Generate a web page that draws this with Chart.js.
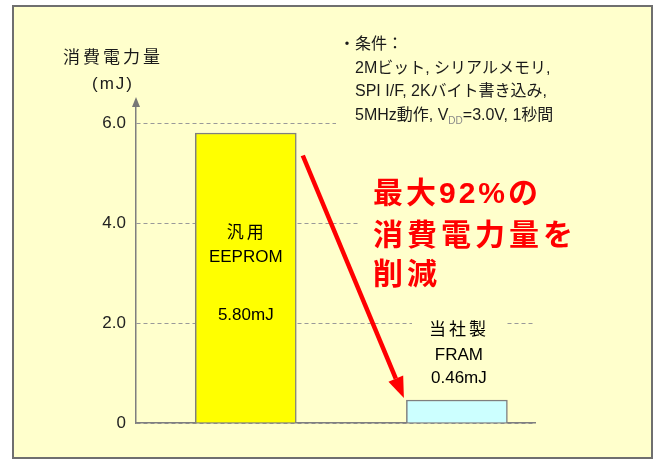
<!DOCTYPE html>
<html>
<head>
<meta charset="utf-8">
<script src="https://cdn.jsdelivr.net/npm/chart.js@4.4.0/dist/chart.umd.min.js"></script>
<style>
  html, body { margin: 0; padding: 0; background: #fff; }
  canvas { display: block; }
</style>
</head>
<body>
<canvas id="myChart" width="659" height="459"></canvas>
<script>
// chart data
var categories = ['汎用EEPROM', '当社製FRAM'];
var energy = [5.80, 0.46]; // mJ
var barNames = [['汎用', 'EEPROM'], ['当社製', 'FRAM']];
var valueLabels = ['5.80mJ', '0.46mJ'];
var tickValues = [0, 2, 4, 6];
var tickLabels = ['0', '2.0', '4.0', '6.0'];
var axisTitle = ['消費電力量', '(mJ)'];
var conditions = ['・条件：', '2Mビット, シリアルメモリ,', 'SPI I/F, 2Kバイト書き込み,'];
var lastCondition = ['5MHz動作, V', 'DD', '=3.0V, 1秒間'];
var headline = ['最大92%の', '消費電力量を', '削減'];

var FONT = '"Liberation Sans", "Noto Sans CJK JP", sans-serif';
var PANEL = '#FFFFCC';

function txt(ctx, s, x, y, font, color, align, spacing) {
  ctx.font = font;
  ctx.fillStyle = color;
  ctx.textAlign = align || 'left';
  ctx.textBaseline = 'middle';
  ctx.letterSpacing = spacing || '0px';
  ctx.fillText(s, x, y);
  ctx.letterSpacing = '0px';
}

var decor = {
  id: 'decor',
  beforeDraw: function(chart) {
    var ctx = chart.ctx;
    ctx.save();
    ctx.fillStyle = '#fff';
    ctx.fillRect(0, 0, chart.width, chart.height);
    ctx.fillStyle = PANEL;
    ctx.fillRect(12, 5, 641, 454);
    ctx.strokeStyle = '#6f6f6f';
    ctx.lineWidth = 2;
    ctx.strokeRect(13, 6, 639, 452);
    ctx.restore();
  },
  afterDatasetsDraw: function(chart) {
    var ctx = chart.ctx;
    var xs = chart.scales.x, ys = chart.scales.y;
    ctx.save();

    // panels behind text hide the grid lines
    ctx.fillStyle = PANEL;
    ctx.fillRect(336, 28, 210, 100);
    ctx.fillRect(360, 172, 190, 124);
    ctx.fillRect(412, 316, 94, 74);

    // y axis arrow head
    var ax = chart.chartArea.left;
    ctx.fillStyle = '#777';
    ctx.beginPath();
    ctx.moveTo(ax, 97);
    ctx.lineTo(ax - 4, 107);
    ctx.lineTo(ax + 4, 107);
    ctx.closePath();
    ctx.fill();

    // axis title
    txt(ctx, axisTitle[0], 113, 58, '17px ' + FONT, '#1a1a1a', 'center', '3px');
    txt(ctx, axisTitle[1], 113, 84, '17px ' + FONT, '#1a1a1a', 'center', '2px');

    // conditions
    var cf = '16px ' + FONT;
    txt(ctx, conditions[0], 339, 45, cf, '#1a1a1a');
    txt(ctx, conditions[1], 355, 69, cf, '#1a1a1a');
    txt(ctx, conditions[2], 355, 92, cf, '#1a1a1a');
    ctx.font = cf;
    var cx = 355;
    txt(ctx, lastCondition[0], cx, 116, cf, '#1a1a1a');
    cx += ctx.measureText(lastCondition[0]).width;
    txt(ctx, lastCondition[1], cx, 121, '10px ' + FONT, '#888');
    ctx.font = '10px ' + FONT;
    cx += ctx.measureText(lastCondition[1]).width;
    txt(ctx, lastCondition[2], cx, 116, cf, '#1a1a1a');

    // headline
    var hf = 'bold 30px ' + FONT;
    txt(ctx, headline[0], 373, 195, hf, '#FF0000', 'left', '3px');
    txt(ctx, headline[1], 373, 237, hf, '#FF0000', 'left', '4px');
    txt(ctx, headline[2], 373, 276, hf, '#FF0000', 'left', '4px');

    // bar labels
    var bf = '17px ' + FONT;
    var b0 = xs.getPixelForValue(0), b1 = xs.getPixelForValue(1);
    txt(ctx, barNames[0][0], b0 + 1, 233, bf, '#000', 'center', '3px');
    txt(ctx, barNames[0][1], b0, 257, bf, '#000', 'center');
    txt(ctx, valueLabels[0], b0, 315, bf, '#000', 'center');
    txt(ctx, barNames[1][0], b1 + 2, 330, bf, '#000', 'center', '3px');
    txt(ctx, barNames[1][1], b1 + 2, 355, bf, '#000', 'center');
    txt(ctx, valueLabels[1], b1 + 2, 378, bf, '#000', 'center');

    // red arrow from the EEPROM bar down to the FRAM bar
    var x0 = b0 + 57, y0 = ys.getPixelForValue(5.35);
    var x1 = b1 - 53, y1 = ys.getPixelForValue(0.46) - 2;
    var ang = Math.atan2(y1 - y0, x1 - x0);
    var hl = 21, hw = 8;
    var bx = x1 - hl * Math.cos(ang), by = y1 - hl * Math.sin(ang);
    ctx.strokeStyle = '#FF0000';
    ctx.lineWidth = 4.5;
    ctx.beginPath();
    ctx.moveTo(x0, y0);
    ctx.lineTo(bx, by);
    ctx.stroke();
    ctx.fillStyle = '#FF0000';
    ctx.beginPath();
    ctx.moveTo(x1, y1);
    ctx.lineTo(bx + hw * Math.sin(ang), by - hw * Math.cos(ang));
    ctx.lineTo(bx - hw * Math.sin(ang), by + hw * Math.cos(ang));
    ctx.closePath();
    ctx.fill();

    ctx.restore();
  }
};

var ctx = document.getElementById('myChart').getContext('2d');
new Chart(ctx, {
  type: 'bar',
  data: {
    datasets: [{
      label: '消費電力量',
      data: energy.map(function(v, i) { return { x: i, y: v }; }),
      backgroundColor: ['#FFFF00', '#CCFFFF'],
      borderColor: '#7f7f7f',
      borderWidth: 1.5,
      barThickness: 101
    }]
  },
  options: {
    responsive: false,
    animation: false,
    devicePixelRatio: 1,
    layout: { padding: { left: 0, right: 124, top: 100, bottom: 36 } },
    plugins: { legend: { display: false }, tooltip: { enabled: false } },
    scales: {
      x: {
        type: 'linear',
        offset: false,
        min: -0.52,
        max: 1.37,
        afterFit: function(s) { s.height = 0; },
        ticks: { display: false },
        grid: { display: false, offset: false },
        border: { display: true, color: '#7f7f7f', width: 1.5 }
      },
      y: {
        min: 0,
        max: 6.46,
        afterFit: function(s) { s.width = 136; },
        afterBuildTicks: function(s) {
          s.ticks = tickValues.map(function(v) { return { value: v }; });
        },
        ticks: {
          padding: 10,
          color: '#222',
          font: { family: '"Liberation Sans"', size: 17 },
          callback: function(v) { return tickLabels[tickValues.indexOf(v)]; }
        },
        grid: { color: '#999', lineWidth: 1, drawTicks: false },
        border: { display: true, color: '#7f7f7f', width: 1.5, dash: [4, 3] }
      }
    }
  },
  plugins: [decor]
});
</script>
</body>
</html>
